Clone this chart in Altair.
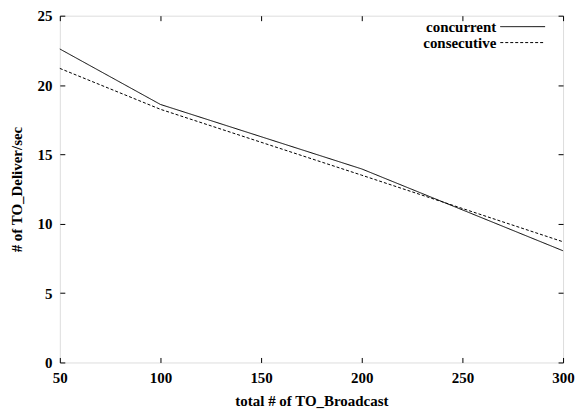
import altair as alt
import pandas as pd

# data
n_broadcast = [50, 100, 200, 300]
concurrent = [22.6, 18.6, 13.95, 8.05]
consecutive = [21.2, 18.25, 13.5, 8.7]
series = ["concurrent", "consecutive"]
x_ticks = [50, 100, 150, 200, 250, 300]
y_ticks = [0, 5, 10, 15, 20, 25]

rows = []
for name, vals in zip(series, [concurrent, consecutive]):
    for n, v in zip(n_broadcast, vals):
        rows.append({"n": n, "v": v, "series": name})
df = pd.DataFrame(rows)

FONT = "Liberation Serif"
FS = 15
dashes = [[1, 0], [3, 2]]

xs = alt.Scale(domain=[50, 300], nice=False, zero=False)
ys = alt.Scale(domain=[0, 25], nice=False)

common = dict(grid=False, domain=False, tickSize=5, offset=-5, tickColor="black",
              labelFont=FONT, labelFontSize=FS, labelFontWeight="bold", labelColor="black",
              labelFlush=False, labelOverlap=False,
              titleFont=FONT, titleFontSize=FS, titleFontWeight="bold", titleColor="black")

bottom_axis = alt.Axis(orient="bottom", values=x_ticks, labelPadding=8,
                       title="total # of TO_Broadcast", titlePadding=8, **common)
left_axis = alt.Axis(orient="left", values=y_ticks, labelPadding=8,
                     title="# of TO_Deliver/sec", titlePadding=12, **common)
top_axis = alt.Axis(orient="top", values=x_ticks, labels=False, title=None, **common)
right_axis = alt.Axis(orient="right", values=y_ticks, labels=False, title=None, **common)

lines = alt.Chart(df).mark_line(color="black", strokeWidth=1).encode(
    x=alt.X("n:Q", scale=xs, axis=bottom_axis),
    y=alt.Y("v:Q", scale=ys, axis=left_axis),
    strokeDash=alt.StrokeDash("series:N", scale=alt.Scale(domain=series, range=dashes), legend=None),
    detail="series:N",
)

mirror = alt.Chart(df).mark_point(opacity=0).encode(
    x=alt.X("n:Q", scale=xs, axis=top_axis),
    y=alt.Y("v:Q", scale=ys, axis=right_axis),
)

legend_layers = []
for i, name in enumerate(series):
    ldf = pd.DataFrame({"label": [name]})
    yy = 11 + 16 * i
    legend_layers.append(
        alt.Chart(ldf).mark_text(align="right", baseline="middle", font=FONT, fontSize=FS,
                                 fontWeight="bold", color="black").encode(
            text="label:N", x=alt.value(438), y=alt.value(yy))
    )
    legend_layers.append(
        alt.Chart(ldf).mark_rule(color="black", strokeWidth=1, strokeDash=dashes[i]).encode(
            x=alt.value(442), x2=alt.value(487), y=alt.value(yy))
    )

chart = alt.layer(lines, mirror, *legend_layers).resolve_axis(
    x="independent", y="independent"
).properties(
    width=505, height=348,
    autosize=alt.AutoSizeParams(type="none"),
    padding={"left": 52, "top": 7, "right": 14, "bottom": 48},
).configure_view(stroke="black", strokeWidth=1).configure(background="white")

chart.save("out.html", embed_options={"renderer": "svg", "actions": False})
